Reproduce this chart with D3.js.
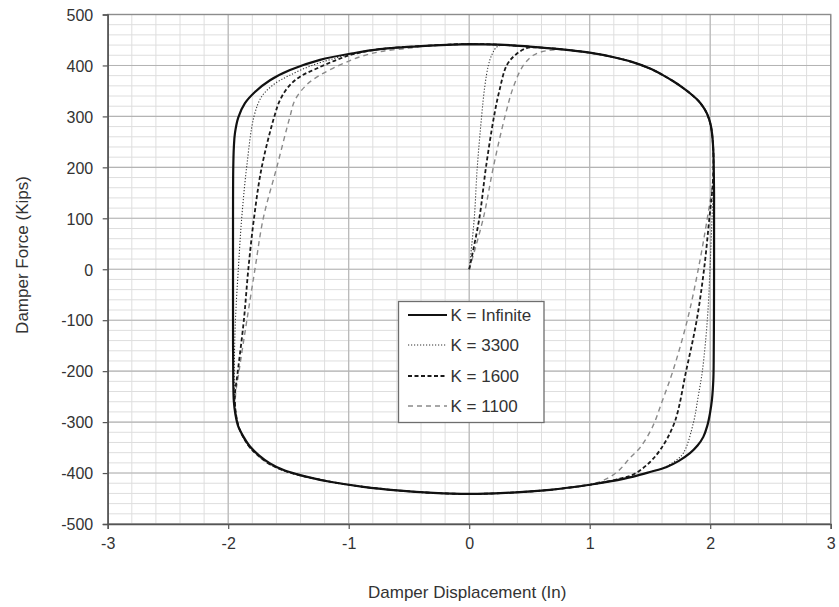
<!DOCTYPE html>
<html>
<head>
<meta charset="utf-8">
<script src="https://cdn.jsdelivr.net/npm/d3@7"></script>
<style>
  html, body { margin: 0; padding: 0; background: #fff; }
  svg { display: block; }
  text { font-family: "Liberation Sans", Arial, sans-serif; fill: #333; }
</style>
</head>
<body>
<svg id="chart" width="839" height="607"></svg>
<script>
// Damper force vs. displacement loops for several brace stiffnesses K.
const xTicks = [-3, -2, -1, 0, 1, 2, 3];
const yTicks = [-500, -400, -300, -200, -100, 0, 100, 200, 300, 400, 500];
const seriesNames = ["K = Infinite", "K = 3300", "K = 1600", "K = 1100"];

// [displacement (in), force (kips)]
const kInfinite = [
  [0.0,442],[0.25,441],[0.5,437],[0.75,432],[1.0,425],[1.2,416],[1.35,407],[1.5,394],[1.6,382],
  [1.7,368],[1.78,355],[1.85,342],[1.9,331],[1.94,319],[1.97,307],[1.99,295],[2.005,282],
  [2.016,265],[2.023,245],[2.027,225],[2.03,190],[2.032,150],[2.032,100],[2.032,0],[2.031,-100],
  [2.029,-180],[2.026,-217],[2.015,-255],[1.998,-283],[1.975,-308],[1.943,-329],[1.895,-346],
  [1.832,-361],[1.74,-376],[1.639,-388],[1.5,-398],[1.362,-407],[1.18,-416],[1.0,-423],[0.67,-433],
  [0.3,-439],[0.0,-441],[-0.3,-439],[-0.6,-434],[-0.879,-427],[-1.155,-417],[-1.3,-410],
  [-1.432,-402],[-1.55,-393],[-1.653,-381],[-1.74,-366],[-1.819,-348],[-1.87,-330],[-1.916,-309],
  [-1.94,-285],[-1.953,-260],[-1.958,-220],[-1.96,-100],[-1.96,0],[-1.96,100],[-1.958,200],
  [-1.953,240],[-1.944,267],[-1.916,298],[-1.861,326],[-1.778,348],[-1.653,371],[-1.487,391],
  [-1.238,411],[-0.962,424],[-0.74,432],[-0.4,438],[0.0,442]
];

const k3300 = [
  [0,0],[0.042,100],[0.067,200],[0.103,300],[0.13,360],[0.159,400],[0.19,422],[0.228,436],[0.28,440],
  [0.5,437],[0.75,432],[1.0,425],[1.2,416],[1.35,407],[1.5,394],[1.6,382],[1.7,368],[1.78,355],
  [1.85,342],[1.9,331],[1.94,319],[1.97,307],[1.99,295],[2.005,282],[2.016,265],[2.023,245],
  [2.027,225],[2.028,180],[2.015,100],[1.998,0],[1.976,-100],[1.935,-200],[1.9,-250],[1.86,-302],
  [1.777,-361],[1.70,-378],[1.6,-391],[1.5,-398],[1.362,-407],[1.18,-416],[1.0,-423],[0.67,-433],
  [0.3,-439],[0.0,-441],[-0.3,-439],[-0.6,-434],[-0.879,-427],[-1.155,-417],[-1.3,-410],
  [-1.432,-403],[-1.55,-394],[-1.653,-383],[-1.74,-368],[-1.819,-350],[-1.87,-332],[-1.91,-311],
  [-1.935,-285],[-1.948,-250],[-1.95,-200],[-1.94,-100],[-1.916,0],[-1.888,100],[-1.847,200],
  [-1.786,300],[-1.722,339],[-1.626,362],[-1.487,381],[-1.294,401],[-1.1,415],[-0.962,424],
  [-0.74,432],[-0.4,438],[0,442],[0.28,440],[0.5,437]
];

const k1600 = [
  [0,0],[0.084,100],[0.139,200],[0.206,300],[0.25,350],[0.311,400],[0.38,420],[0.477,434],[0.6,435],
  [0.75,432],[1.0,425],[1.2,416],[1.35,407],[1.5,394],[1.6,382],[1.7,368],[1.78,355],[1.85,342],
  [1.9,331],[1.94,319],[1.97,307],[1.99,295],[2.005,282],[2.016,265],[2.023,245],[2.027,225],
  [2.022,170],[1.993,100],[1.949,0],[1.888,-100],[1.80,-200],[1.705,-300],[1.584,-355],[1.47,-385],
  [1.36,-403],[1.25,-411],[1.1,-419],[1.0,-423],[0.67,-433],[0.3,-439],[0.0,-441],[-0.3,-439],
  [-0.6,-434],[-0.879,-427],[-1.155,-417],[-1.3,-410],[-1.432,-403],[-1.55,-394],[-1.653,-383],
  [-1.74,-368],[-1.819,-350],[-1.87,-332],[-1.91,-311],[-1.935,-285],[-1.945,-250],[-1.92,-200],
  [-1.87,-100],[-1.833,0],[-1.786,100],[-1.722,200],[-1.617,300],[-1.57,332],[-1.501,358],
  [-1.404,378],[-1.266,394],[-1.1,411],[-0.962,422],[-0.74,432],[-0.4,438],[0,442],[0.3,440],[0.6,435]
];

const k1100 = [
  [0,0],[0.117,100],[0.2,200],[0.297,300],[0.37,360],[0.449,400],[0.532,420],[0.643,429],[0.8,431],
  [1.0,425],[1.2,416],[1.35,407],[1.5,394],[1.6,382],[1.7,368],[1.78,355],[1.85,342],[1.9,331],
  [1.94,319],[1.97,307],[1.99,295],[2.005,282],[2.016,265],[2.023,245],[2.027,225],[2.02,170],
  [1.976,100],[1.901,0],[1.81,-100],[1.69,-200],[1.6,-260],[1.52,-310],[1.418,-350],[1.335,-370],
  [1.25,-393],[1.15,-410],[1.0,-423],[0.67,-433],[0.3,-439],[0.0,-441],[-0.3,-439],[-0.6,-434],
  [-0.879,-427],[-1.155,-417],[-1.3,-410],[-1.432,-403],[-1.55,-394],[-1.653,-383],[-1.74,-368],
  [-1.819,-350],[-1.87,-332],[-1.91,-311],[-1.935,-285],[-1.94,-250],[-1.91,-200],[-1.845,-100],
  [-1.778,0],[-1.709,100],[-1.597,200],[-1.487,300],[-1.446,332],[-1.349,362],[-1.238,381],
  [-1.072,401],[-0.906,417],[-0.74,427],[-0.5,434],[-0.3,439],[0,442],[0.3,440],[0.6,435],[0.8,431]
];

const seriesData = [kInfinite, k3300, k1600, k1100];
const seriesStyle = [
  { stroke: "#111", width: 2.2, dash: null },
  { stroke: "#333", width: 1.1, dash: "1.2,1.8" },
  { stroke: "#1a1a1a", width: 1.8, dash: "4,2.5" },
  { stroke: "#8a8a8a", width: 1.4, dash: "5,4" }
];

const svg = d3.select("#chart");
const plot = { left: 107.7, right: 830.7, top: 14.5, bottom: 524 };

const x = d3.scaleLinear().domain([-3, 3]).range([plot.left, plot.right]);
const y = d3.scaleLinear().domain([-500, 500]).range([plot.bottom, plot.top]);

// Minor grid
const grid = svg.append("g");
grid.selectAll("line.vminor").data(x.ticks(30)).join("line")
  .attr("x1", d => x(d)).attr("x2", d => x(d))
  .attr("y1", plot.top).attr("y2", plot.bottom)
  .attr("stroke", "#dedede").attr("stroke-width", 1);
grid.selectAll("line.hminor").data(y.ticks(50)).join("line")
  .attr("y1", d => y(d)).attr("y2", d => y(d))
  .attr("x1", plot.left).attr("x2", plot.right)
  .attr("stroke", "#dedede").attr("stroke-width", 1);
// Major grid
grid.selectAll("line.vmajor").data(xTicks).join("line")
  .attr("x1", d => x(d)).attr("x2", d => x(d))
  .attr("y1", plot.top).attr("y2", plot.bottom)
  .attr("stroke", "#b4b4b4").attr("stroke-width", 1.1);
grid.selectAll("line.hmajor").data(yTicks).join("line")
  .attr("y1", d => y(d)).attr("y2", d => y(d))
  .attr("x1", plot.left).attr("x2", plot.right)
  .attr("stroke", "#b4b4b4").attr("stroke-width", 1.1);

// Plot frame
svg.append("rect")
  .attr("x", plot.left).attr("y", plot.top)
  .attr("width", plot.right - plot.left).attr("height", plot.bottom - plot.top)
  .attr("fill", "none").attr("stroke", "#8c8c8c").attr("stroke-width", 1.4);

// Axes (plain hyphen for negative labels)
const plainInt = d => String(d);
const yAxis = d3.axisLeft(y).tickValues(yTicks).tickSize(5).tickFormat(plainInt);
const xAxis = d3.axisBottom(x).tickValues(xTicks).tickSize(5).tickFormat(plainInt);

const gy = svg.append("g").attr("transform", `translate(${plot.left},0)`).call(yAxis);
const gx = svg.append("g").attr("transform", `translate(0,${plot.bottom})`).call(xAxis);
[gy, gx].forEach(g => {
  g.select(".domain").attr("stroke", "#555").attr("stroke-width", 1.5);
  g.selectAll(".tick line").attr("stroke", "#555").attr("stroke-width", 1.2);
  g.selectAll(".tick text")
    .attr("font-family", "Liberation Sans, Arial, sans-serif")
    .attr("font-size", 16).attr("fill", "#333");
});
gy.selectAll(".tick text").attr("x", -14.5).attr("dy", "0.36em");
gx.selectAll(".tick text").attr("y", 14).attr("dy", "0.71em");

// Axis titles
svg.append("text")
  .attr("x", (plot.left + plot.right) / 2 - 2).attr("y", 598)
  .attr("text-anchor", "middle").attr("font-size", 17)
  .text("Damper Displacement (In)");
svg.append("text")
  .attr("transform", "translate(27.5,255) rotate(-90)")
  .attr("text-anchor", "middle").attr("font-size", 17)
  .text("Damper Force (Kips)");

// Loops
const line = d3.line()
  .x(d => x(d[0])).y(d => y(d[1]))
  .curve(d3.curveCatmullRom.alpha(0.5));

const drawOrder = [3, 2, 1, 0];
svg.append("g").selectAll("path").data(drawOrder).join("path")
  .attr("d", i => line(seriesData[i]))
  .attr("fill", "none")
  .attr("stroke", i => seriesStyle[i].stroke)
  .attr("stroke-width", i => seriesStyle[i].width)
  .attr("stroke-dasharray", i => seriesStyle[i].dash)
  .attr("stroke-linejoin", "round");

// Legend
const legend = svg.append("g");
legend.append("rect")
  .attr("x", 398.5).attr("y", 301.5).attr("width", 145.5).attr("height", 121)
  .attr("fill", "#fff").attr("stroke", "#6e6e6e").attr("stroke-width", 1.3);
const rowY = [315, 345, 376, 406];
const items = legend.selectAll("g").data(seriesNames).join("g");
items.append("line")
  .attr("x1", 408).attr("x2", 447)
  .attr("y1", (d, i) => rowY[i]).attr("y2", (d, i) => rowY[i])
  .attr("stroke", (d, i) => seriesStyle[i].stroke)
  .attr("stroke-width", (d, i) => seriesStyle[i].width)
  .attr("stroke-dasharray", (d, i) => seriesStyle[i].dash);
items.append("text")
  .attr("x", 450.5).attr("y", (d, i) => rowY[i]).attr("dy", "0.36em")
  .attr("font-size", 17)
  .text(d => d);
</script>
</body>
</html>
